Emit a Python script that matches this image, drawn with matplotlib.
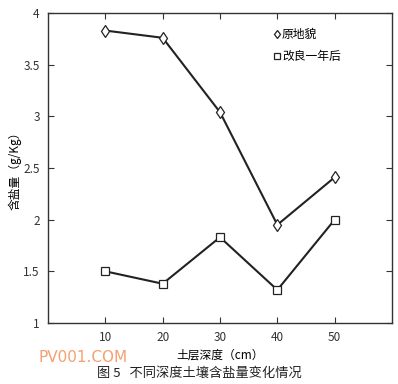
import matplotlib
matplotlib.use('Agg')
import matplotlib.pyplot as plt

plt.rcParams['font.family'] = ['Noto Sans CJK SC', 'DejaVu Sans']

# soil depth (cm) and salt content (g/Kg)
depth = [10, 20, 30, 40, 50]
original = [3.83, 3.76, 3.04, 1.95, 2.41]
improved = [1.50, 1.38, 1.83, 1.32, 2.00]
x_ticks = [10, 20, 30, 40, 50]
y_ticks = [1, 1.5, 2, 2.5, 3, 3.5, 4]
y_tick_labels = ['1', '1.5', '2', '2.5', '3', '3.5', '4']

fig = plt.figure(figsize=(3.98, 3.84), dpi=100)
ax = fig.add_axes([48 / 398, 1 - 323 / 384, 344 / 398, 310 / 384])

ax.plot(depth, original, color='#222222', lw=1.5, marker='d', ms=6,
        mfc='white', mec='#222222', mew=0.9, label='原地貌')
ax.plot(depth, improved, color='#222222', lw=1.5, marker='s', ms=5.5,
        mfc='white', mec='#222222', mew=0.9, label='改良一年后')

ax.set_xlim(0, 60)
ax.set_ylim(1, 4)
ax.set_xticks(x_ticks)
ax.set_yticks(y_ticks)
ax.set_yticklabels(y_tick_labels)
ax.tick_params(direction='in', top=True, right=True, length=4, width=0.8,
               labelsize=8.5, colors='#333333', pad=6)
for s in ax.spines.values():
    s.set_linewidth(1.0)
    s.set_color('#333333')

ax.set_xlabel('土层深度（cm）', fontsize=8.5, labelpad=3)
ax.set_ylabel('含盐量（g/Kg）', fontsize=8.5, labelpad=1)

leg = ax.legend(loc='upper left', bbox_to_anchor=(0.625, 0.985), frameon=False,
                fontsize=8.5, handlelength=0.5, handletextpad=0.2,
                labelspacing=0.75, markerscale=0.75)
for h in leg.legend_handles:
    h.set_linestyle('none')

fig.text(38 / 398, 1 - 357 / 384, 'PV001.COM', color='#f4a070',
         fontsize=11, va='center', ha='left', family='DejaVu Sans')
fig.text(0.5, 1 - 373 / 384, '图 5   不同深度土壤含盐量变化情况',
         fontsize=9.5, ha='center', va='center', color='#222222')

fig.savefig('out.png', dpi=100)
